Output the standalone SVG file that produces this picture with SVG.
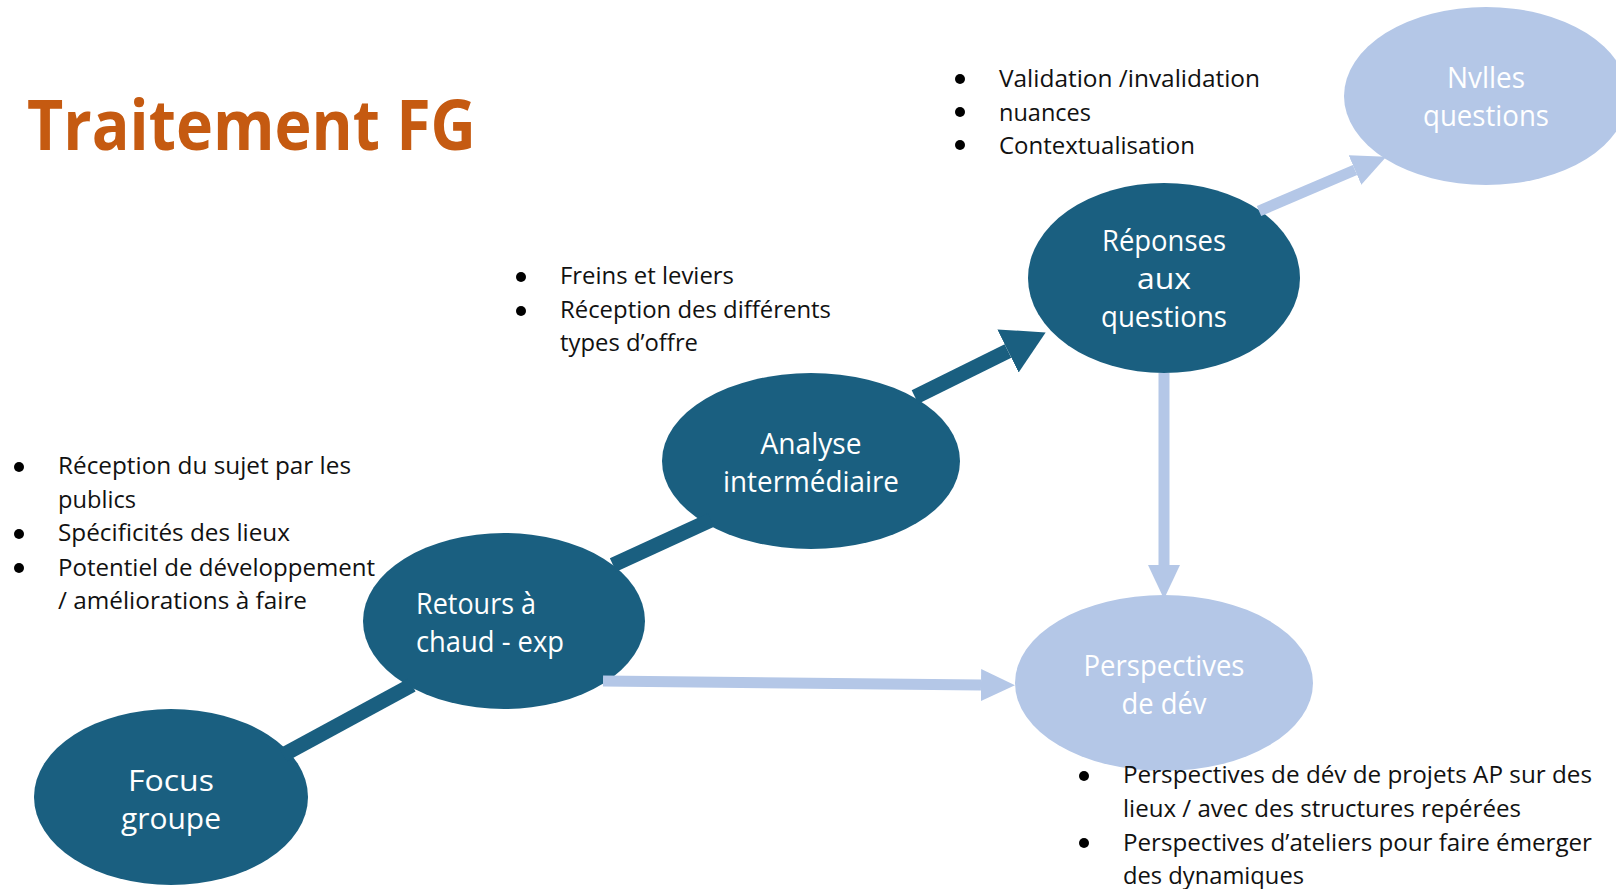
<svg xmlns="http://www.w3.org/2000/svg" width="1616" height="889" viewBox="0 0 1616 889">
  <style>
    .dark { fill: #1a5f80; }
    .light { fill: #b4c7e7; }
    .lbl { font-family: "Open Sans", "Noto Sans", sans-serif; font-size: 29px; fill: #ffffff; text-anchor: middle; }
    .lbl-l { font-family: "Open Sans", "Noto Sans", sans-serif; font-size: 29px; fill: #ffffff; }
    .txt { font-family: "Open Sans", "Noto Sans", sans-serif; font-size: 24px; fill: #111111; }
    .dot { fill: #000000; }
    .title { font-family: "Open Sans", "Noto Sans", sans-serif; font-size: 70px; font-weight: bold; fill: #c55a11; }
    .c-dark { stroke: #1a5f80; stroke-width: 15; fill: none; }
    .c-light { stroke: #b4c7e7; stroke-width: 11; fill: none; }
  </style>
  <defs>
    <marker id="head-dark" markerUnits="userSpaceOnUse" viewBox="0 0 42 48" refX="0" refY="24" markerWidth="42" markerHeight="48" orient="auto">
      <path d="M0,0 L42,24 L0,48 Z" fill="#1a5f80"/>
    </marker>
    <marker id="head-light" markerUnits="userSpaceOnUse" viewBox="0 0 34 32" refX="0" refY="16" markerWidth="34" markerHeight="32" orient="auto">
      <path d="M0,0 L34,16 L0,32 Z" fill="#b4c7e7"/>
    </marker>
  </defs>

  <rect width="1616" height="889" fill="#ffffff"/>

  <text class="title" x="27" y="150" textLength="449" lengthAdjust="spacingAndGlyphs">Traitement FG</text>

  <!-- nodes -->
  <g id="node-focus">
    <ellipse class="dark" cx="171" cy="797" rx="137" ry="88"/>
    <text class="lbl" x="171" y="791" textLength="86" lengthAdjust="spacingAndGlyphs">Focus</text>
    <text class="lbl" x="171" y="829" textLength="100" lengthAdjust="spacingAndGlyphs">groupe</text>
  </g>
  <g id="node-retours">
    <ellipse class="dark" cx="504" cy="621" rx="141" ry="88"/>
    <text class="lbl-l" x="416" y="614" textLength="120" lengthAdjust="spacingAndGlyphs">Retours à</text>
    <text class="lbl-l" x="416" y="652" textLength="148" lengthAdjust="spacingAndGlyphs">chaud - exp</text>
  </g>
  <g id="node-analyse">
    <ellipse class="dark" cx="811" cy="461" rx="149" ry="88"/>
    <text class="lbl" x="811" y="454" textLength="101" lengthAdjust="spacingAndGlyphs">Analyse</text>
    <text class="lbl" x="811" y="492" textLength="176" lengthAdjust="spacingAndGlyphs">intermédiaire</text>
  </g>
  <g id="node-reponses">
    <ellipse class="dark" cx="1164" cy="278" rx="136" ry="95"/>
    <text class="lbl" x="1164" y="251" textLength="124" lengthAdjust="spacingAndGlyphs">Réponses</text>
    <text class="lbl" x="1164" y="289" textLength="54" lengthAdjust="spacingAndGlyphs">aux</text>
    <text class="lbl" x="1164" y="327" textLength="126" lengthAdjust="spacingAndGlyphs">questions</text>
  </g>
  <g id="node-nvlles">
    <ellipse class="light" cx="1486" cy="96" rx="142" ry="89"/>
    <text class="lbl" x="1486" y="88" textLength="78" lengthAdjust="spacingAndGlyphs">Nvlles</text>
    <text class="lbl" x="1486" y="126" textLength="126" lengthAdjust="spacingAndGlyphs">questions</text>
  </g>
  <g id="node-perspectives">
    <ellipse class="light" cx="1164" cy="683" rx="149" ry="88"/>
    <text class="lbl" x="1164" y="676" textLength="161" lengthAdjust="spacingAndGlyphs">Perspectives</text>
    <text class="lbl" x="1164" y="714" textLength="85" lengthAdjust="spacingAndGlyphs">de dév</text>
  </g>

  <!-- connectors -->
  <g id="connectors">
    <line class="c-dark" x1="283" y1="755" x2="412" y2="685"/>
    <line class="c-dark" x1="613" y1="565" x2="711" y2="520"/>
    <line class="c-dark" x1="915" y1="397" x2="1008" y2="351" marker-end="url(#head-dark)"/>
    <line class="c-light" x1="1259" y1="211" x2="1355" y2="170" marker-end="url(#head-light)"/>
    <line class="c-light" x1="1164" y1="373" x2="1164" y2="565" marker-end="url(#head-light)"/>
    <line class="c-light" x1="603" y1="681" x2="981" y2="685" marker-end="url(#head-light)"/>
  </g>

  <!-- bullet notes -->
  <g id="notes-reponses">
    <circle class="dot" cx="960" cy="79" r="5"/>
    <circle class="dot" cx="960" cy="112" r="5"/>
    <circle class="dot" cx="960" cy="145" r="5"/>
    <text class="txt" x="999" y="87" textLength="261" lengthAdjust="spacingAndGlyphs">Validation /invalidation</text>
    <text class="txt" x="999" y="121" textLength="92" lengthAdjust="spacingAndGlyphs">nuances</text>
    <text class="txt" x="999" y="154" textLength="196" lengthAdjust="spacingAndGlyphs">Contextualisation</text>
  </g>
  <g id="notes-analyse">
    <circle class="dot" cx="521" cy="277" r="5"/>
    <circle class="dot" cx="521" cy="311" r="5"/>
    <text class="txt" x="560" y="284" textLength="174" lengthAdjust="spacingAndGlyphs">Freins et leviers</text>
    <text class="txt" x="560" y="318" textLength="271" lengthAdjust="spacingAndGlyphs">Réception des différents</text>
    <text class="txt" x="560" y="351" textLength="138" lengthAdjust="spacingAndGlyphs">types d’offre</text>
  </g>
  <g id="notes-retours">
    <circle class="dot" cx="19" cy="467" r="5"/>
    <circle class="dot" cx="19" cy="534" r="5"/>
    <circle class="dot" cx="19" cy="568" r="5"/>
    <text class="txt" x="58" y="474" textLength="293" lengthAdjust="spacingAndGlyphs">Réception du sujet par les</text>
    <text class="txt" x="58" y="508" textLength="78" lengthAdjust="spacingAndGlyphs">publics</text>
    <text class="txt" x="58" y="541" textLength="232" lengthAdjust="spacingAndGlyphs">Spécificités des lieux</text>
    <text class="txt" x="58" y="576" textLength="317" lengthAdjust="spacingAndGlyphs">Potentiel de développement</text>
    <text class="txt" x="58" y="609" textLength="249" lengthAdjust="spacingAndGlyphs">/ améliorations à faire</text>
  </g>
  <g id="notes-perspectives">
    <circle class="dot" cx="1084" cy="776" r="5"/>
    <circle class="dot" cx="1084" cy="843" r="5"/>
    <text class="txt" x="1123" y="783" textLength="469" lengthAdjust="spacingAndGlyphs">Perspectives de dév de projets AP sur des</text>
    <text class="txt" x="1123" y="817" textLength="398" lengthAdjust="spacingAndGlyphs">lieux / avec des structures repérées</text>
    <text class="txt" x="1123" y="851" textLength="469" lengthAdjust="spacingAndGlyphs">Perspectives d’ateliers pour faire émerger</text>
    <text class="txt" x="1123" y="884" textLength="181" lengthAdjust="spacingAndGlyphs">des dynamiques</text>
  </g>
</svg>
